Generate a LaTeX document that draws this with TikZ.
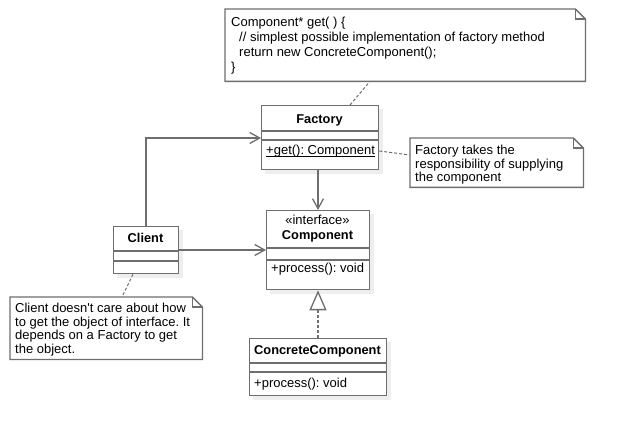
\documentclass[tikz,border=0pt]{standalone}
\usepackage{fontspec}
\setmainfont{Liberation Sans}[Ligatures=TeXOff]
\frenchspacing
\usetikzlibrary{arrows.meta}
\definecolor{linegray}{HTML}{6E6E6E}
\definecolor{shadowgray}{HTML}{EEEEEE}
\begin{document}
\begin{tikzpicture}[x=1pt,y=-1pt,
  line/.style={draw=linegray, line width=1.3pt},
  box/.style={draw=linegray, fill=white, line width=1.3pt, inner sep=0pt, anchor=north west},
  notebox/.style={inner sep=0pt, anchor=north west},
  shade/.style={fill=shadowgray},
  txt/.style={inner sep=0pt, anchor=base, font=\fontsize{13}{15}\selectfont},
  ltxt/.style={txt, anchor=base west},
  ttl/.style={txt, font=\fontsize{12.8}{15}\selectfont\bfseries},
  dep/.style={line, -{Straight Barb[length=10pt,width=11pt,line width=1.3pt]}},
  real/.style={line, dash pattern=on 3pt off 2pt, -{Triangle[open,length=20pt,width=17pt,fill=white,line width=1.3pt]}},
  anchorline/.style={draw=linegray, line width=1pt, dash pattern=on 3pt off 2pt},
  note/.style={line, fill=white}
]
\useasboundingbox (0,0) rectangle (626,435);
\fill[white] (0,0) rectangle (626,435);

% ---- Top note ----
\node[notebox, minimum width=360pt, minimum height=72pt] (topnote) at (225,9) {};
\draw[note] (topnote.north west) -- ([xshift=-10pt]topnote.north east) -- ([yshift=-10pt]topnote.north east) -- (topnote.south east) -- (topnote.south west) -- cycle;
\draw[line] ([xshift=-10pt]topnote.north east) -- ([xshift=-10pt,yshift=-10pt]topnote.north east) -- ([yshift=-10pt]topnote.north east);
\node[ltxt] (top1) at (231,26.5) {Component* get( ) \{};
\node[ltxt] (top2) at (239,41.5) {// simplest possible implementation of factory method};
\node[ltxt] (top3) at (239,56.5) {return new ConcreteComponent();};
\node[ltxt] (top4) at (231,71.5) {\}};

% ---- Factory ----
\fill[shade] (265,109) rectangle (383,174);
\node[box, minimum width=117pt, minimum height=64pt] (factory) at (261,105) {};
\draw[line] (261,131) -- (378,131);
\draw[line] (261,140) -- (378,140);
\node[ttl] (factoryname) at (319.5,123.5) {Factory};
\node[ltxt] (factoryget) at (266,155) {+get(): Component};
\draw[draw=black, line width=0.8pt] ([yshift=-1.8pt]factoryget.base west) -- ([yshift=-1.8pt]factoryget.base east);

% ---- Factory note ----
\node[notebox, minimum width=173pt, minimum height=49pt] (fnote) at (410,138) {};
\draw[note] (fnote.north west) -- ([xshift=-10pt]fnote.north east) -- ([yshift=-10pt]fnote.north east) -- (fnote.south east) -- (fnote.south west) -- cycle;
\draw[line] ([xshift=-10pt]fnote.north east) -- ([xshift=-10pt,yshift=-10pt]fnote.north east) -- ([yshift=-10pt]fnote.north east);
\node[ltxt] (f1) at (415,155) {Factory takes the};
\node[ltxt] (f2) at (415,168.5) {responsibility of supplying};
\node[ltxt] (f3) at (415,182) {the component};

% ---- Component ----
\fill[shade] (270,214) rectangle (374,294);
\node[box, minimum width=103pt, minimum height=79pt] (component) at (266,210) {};
\draw[line] (266,248) -- (369,248);
\draw[line] (266,260) -- (369,260);
\node[txt] (stereo) at (317.5,225) {«interface»};
\node[ttl] (compname) at (317.5,239.5) {Component};
\node[ltxt] (compop) at (271,273) {+process(): void};

% ---- Client ----
\fill[shade] (117,230) rectangle (183,278);
\node[box, minimum width=65pt, minimum height=47pt] (client) at (113,226) {};
\draw[line] (113,251) -- (178,251);
\draw[line] (113,261) -- (178,261);
\node[ttl] (clientname) at (145.5,243) {Client};

% ---- Client note ----
\node[notebox, minimum width=192pt, minimum height=62pt] (cnote) at (10,297) {};
\draw[note] (cnote.north west) -- ([xshift=-10pt]cnote.north east) -- ([yshift=-10pt]cnote.north east) -- (cnote.south east) -- (cnote.south west) -- cycle;
\draw[line] ([xshift=-10pt]cnote.north east) -- ([xshift=-10pt,yshift=-10pt]cnote.north east) -- ([yshift=-10pt]cnote.north east);
\node[ltxt] (c1) at (15,313) {Client doesn't care about how};
\node[ltxt] (c2) at (15,326.5) {to get the object of interface. It};
\node[ltxt] (c3) at (15,340) {depends on a Factory to get};
\node[ltxt] (c4) at (15,353.5) {the object.};

% ---- ConcreteComponent ----
\fill[shade] (253,342) rectangle (391,400);
\node[box, minimum width=137pt, minimum height=57pt] (concrete) at (249,338) {};
\draw[line] (249,363) -- (386,363);
\draw[line] (249,372) -- (386,372);
\node[ttl] (concname) at (317.5,355) {ConcreteComponent};
\node[ltxt] (concop) at (254,387.5) {+process(): void};

% ---- Connectors ----
\coordinate (cf) at (146,138);
\draw[dep] (client.north -| cf) -- (cf) -- (factory.west |- cf);
\draw[dep] (factory.south -| 318,0) -- (component.north -| 318,0);
\draw[dep] (client.east |- 0,250) -- (component.west |- 0,250);
\draw[real] (concrete.north -| 318,0) -- (component.south -| 318,0);

\draw[anchorline] (factory.east |- 0,151) -- (fnote.west |- 0,155);
\draw[anchorline] (factory.north -| 350,0) -- (topnote.south -| 370,0);
\draw[anchorline] (client.south -| 133,0) -- (cnote.north -| 122,0);
\end{tikzpicture}
\end{document}
